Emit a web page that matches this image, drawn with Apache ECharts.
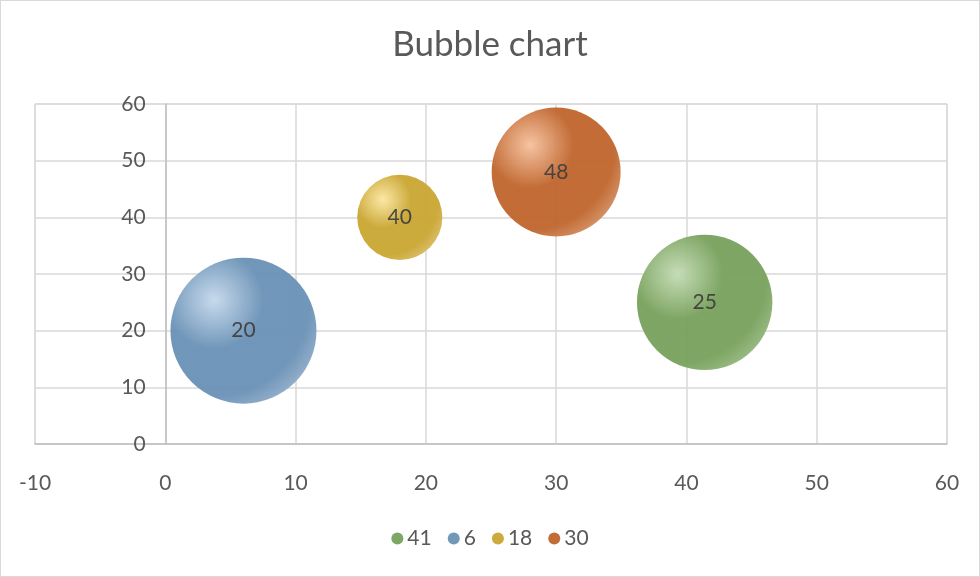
<!DOCTYPE html>
<html>
<head>
<meta charset="utf-8">
<script src="https://cdn.jsdelivr.net/npm/echarts@6/dist/echarts.min.js"></script>
<style>
  html, body { margin: 0; padding: 0; background: #fff; }
  #bubble { width: 980px; height: 577px; box-sizing: border-box; border: 1px solid #d9d9d9; }
</style>
</head>
<body>
<div id="bubble"></div>
<script>
// series names as shown in the legend
var seriesNames = ['41', '6', '18', '30'];
var xValues = [41.4, 6, 18, 30];
var yValues = [25, 20, 40, 48];
var bubbleSizes = [43, 50, 17, 39];
var xMin = -10, xMax = 60;

// light / main / rim colours per bubble
var palette = [
  ['#c3dbb3', '#76a05a', '#93b67c'],
  ['#c4d8ec', '#6890b5', '#8eabc8'],
  ['#fbe7a0', '#c9a530', '#d8ba5e'],
  ['#f6c09c', '#bf632a', '#d28c5e']
];

var chartDom = document.getElementById('bubble');
var myChart = echarts.init(chartDom);
var font = 'Lato, "Open Sans", sans-serif';

var gridLeft = 34, gridRight = 32;
var plotWidth = 980 - gridLeft - gridRight;
// y axis crosses at x = 0, move it (line + labels) inside the plot
var yOffset = -(0 - xMin) / (xMax - xMin) * plotWidth;

var series = seriesNames.map(function (name, i) {
  return {
    name: name,
    type: 'scatter',
    data: [[xValues[i], yValues[i], bubbleSizes[i]]],
    symbolSize: function (val) {
      return Math.sqrt(val[2]) * 20.65;
    },
    itemStyle: {
      opacity: 0.94,
      color: new echarts.graphic.RadialGradient(0.3, 0.29, 0.8, [
        { offset: 0, color: palette[i][0] },
        { offset: 0.42, color: palette[i][1] },
        { offset: 0.82, color: palette[i][1] },
        { offset: 1, color: palette[i][2] }
      ])
    },
    label: {
      show: true,
      position: 'inside',
      formatter: function (p) { return p.value[1]; },
      color: '#404040',
      fontFamily: font,
      fontSize: 21
    },
    emphasis: { disabled: true }
  };
});

var option = {
  animation: false,
  title: {
    text: 'Bubble chart',
    left: 'center',
    top: 21,
    textStyle: { color: '#595959', fontFamily: font, fontSize: 35, fontWeight: 'normal' }
  },
  legend: {
    bottom: 22,
    left: 'center',
    icon: 'circle',
    itemWidth: 12,
    itemHeight: 12,
    itemGap: 16,
    data: seriesNames.map(function (n, i) {
      return { name: n, itemStyle: { color: palette[i][1] } };
    }),
    textStyle: { color: '#595959', fontFamily: font, fontSize: 21, padding: [0, 0, 0, -1] }
  },
  grid: {
    left: gridLeft,
    right: gridRight,
    top: 103,
    bottom: 132,
    containLabel: false,
    outerBoundsMode: 'none',
    show: true,
    borderColor: '#d9d9d9',
    borderWidth: 1
  },
  xAxis: {
    type: 'value',
    min: xMin,
    max: xMax,
    interval: 10,
    axisLine: { show: true, lineStyle: { color: '#bfbfbf', width: 1.5 } },
    axisTick: { show: false },
    splitLine: { show: true, lineStyle: { color: '#d9d9d9', width: 1.5 } },
    axisLabel: { color: '#595959', fontFamily: font, fontSize: 21, margin: 29 }
  },
  yAxis: {
    type: 'value',
    min: 0,
    max: 60,
    interval: 10,
    offset: yOffset,
    axisLine: { show: true, onZero: false, lineStyle: { color: '#bfbfbf', width: 1.5 } },
    axisTick: { show: false },
    splitLine: { show: true, lineStyle: { color: '#d9d9d9', width: 1.5 } },
    axisLabel: { color: '#595959', fontFamily: font, fontSize: 21, margin: 20 }
  },
  series: series
};

myChart.setOption(option);
</script>
</body>
</html>
